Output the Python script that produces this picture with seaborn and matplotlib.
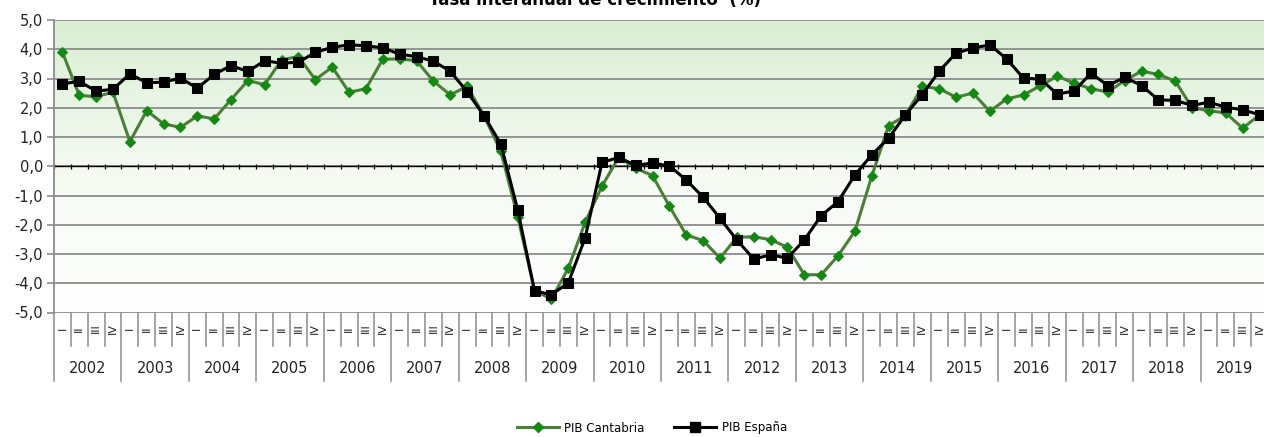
import numpy as np
import pandas as pd
import seaborn as sns
import matplotlib
matplotlib.use('Agg')
import matplotlib.pyplot as plt
from matplotlib.colors import LinearSegmentedColormap
from matplotlib.lines import Line2D

# Quarterly year-on-year GDP growth (%), 2002 Q1 - 2019 Q4
years = [str(y) for y in range(2002, 2020)]
quarters = ["I", "II", "III", "IV"]

cantabria = [
    3.90, 2.42, 2.38, 2.53,
    0.84, 1.90, 1.45, 1.33,
    1.72, 1.62, 2.28, 2.93,
    2.79, 3.64, 3.75, 2.96,
    3.39, 2.53, 2.65, 3.66,
    3.67, 3.61, 2.91, 2.44,
    2.73, 1.73, 0.51, -1.72,
    -4.25, -4.54, -3.49, -1.92,
    -0.68, 0.31, -0.07, -0.32,
    -1.37, -2.35, -2.54, -3.14,
    -2.43, -2.41, -2.51, -2.77,
    -3.71, -3.71, -3.06, -2.22,
    -0.34, 1.39, 1.73, 2.73,
    2.65, 2.36, 2.50, 1.88,
    2.30, 2.44, 2.75, 3.08,
    2.84, 2.65, 2.54, 2.93,
    3.25, 3.14, 2.91, 2.00,
    1.90, 1.82, 1.30, 1.76,
]

espana = [
    2.82, 2.90, 2.57, 2.63,
    3.16, 2.85, 2.88, 3.01,
    2.67, 3.14, 3.44, 3.24,
    3.61, 3.52, 3.56, 3.89,
    4.07, 4.15, 4.12, 4.05,
    3.83, 3.75, 3.59, 3.25,
    2.55, 1.73, 0.76, -1.49,
    -4.26, -4.39, -3.99, -2.45,
    0.13, 0.30, 0.03, 0.11,
    0.01, -0.47, -1.06, -1.78,
    -2.52, -3.17, -3.03, -3.14,
    -2.52, -1.69, -1.21, -0.30,
    0.39, 0.96, 1.76, 2.45,
    3.25, 3.87, 4.04, 4.15,
    3.67, 3.01, 2.98, 2.47,
    2.57, 3.18, 2.76, 3.04,
    2.76, 2.27, 2.25, 2.08,
    2.19, 2.02, 1.93, 1.76,
]

n = len(cantabria)
df = pd.DataFrame({
    "idx": np.arange(n),
    "PIB Cantabria": cantabria,
    "PIB España": espana,
})

plt.rcParams['font.family'] = ['DejaVu Sans']

fig = plt.figure(figsize=(12.64, 4.37), dpi=100)
ax = fig.add_axes([54 / 1264, 1 - 312.5 / 437, 1214 / 1264, 292.5 / 437])

# gradient background
cmap = LinearSegmentedColormap.from_list("bg", ["#ffffff", "#f4faf2", "#d9eed3"])
grad = np.linspace(0, 1, 256).reshape(-1, 1)
ax.imshow(grad, cmap=cmap, aspect='auto', origin='lower',
          extent=[-0.5, n - 0.5, -5, 5], zorder=0)

# horizontal grid
for v in range(-5, 6):
    ax.axhline(v, color="#8c8c8c", lw=1.3, zorder=1)
ax.axhline(0, color="black", lw=1.0, zorder=2)
ax.vlines(np.arange(n + 1) - 0.5, -0.09, 0.09, color="black", lw=0.9, zorder=2)

sns.lineplot(data=df, x="idx", y="PIB Cantabria", ax=ax, color="#4a7f36",
             lw=2.2, marker="D", markersize=5, markerfacecolor="#128a12",
             markeredgecolor="#128a12", zorder=3)
sns.lineplot(data=df, x="idx", y="PIB España", ax=ax, color="black",
             lw=2.2, marker="s", markersize=7, markerfacecolor="black",
             markeredgecolor="black", zorder=4)

ax.set_xlim(-0.5, n - 0.5)
ax.set_ylim(-5, 5)
ax.set_xlabel("")
ax.set_ylabel("")
ax.set_xticks([])
ax.set_yticks(range(-5, 6))
ax.set_yticklabels([f"{v},0" for v in range(-5, 6)], fontsize=10.5, color="#222222")
ax.tick_params(axis='y', length=5, color="#8c8c8c", width=1.2, pad=3)
for s in ["top", "right", "bottom"]:
    ax.spines[s].set_visible(False)
ax.spines["left"].set_color("#8c8c8c")
ax.spines["left"].set_linewidth(1.3)

# category axis below the plot
trans = ax.get_xaxis_transform()
px = 1 / 292.5
for i in range(n + 1):
    x = i - 0.5
    bottom = -68 * px if i % 4 == 0 else -33 * px
    ax.plot([x, x], [0, bottom], transform=trans, color="#8c8c8c",
            lw=1.1, clip_on=False)
for i in range(n):
    ax.text(i, -16 * px, quarters[i % 4], transform=trans, rotation=90,
            ha='center', va='center', fontsize=8, color="#222222", clip_on=False)
for k, y in enumerate(years):
    ax.text(4 * k + 1.5, -56 * px, y, transform=trans, ha='center', va='center',
            fontsize=10.5, color="#222222", clip_on=False)

fig.text(595 / 1264, 1 - 5 / 437, "Tasa interanual de crecimiento  (%)",
         ha='center', va='baseline', fontsize=12, fontweight='bold')

handles = [
    Line2D([], [], color="#4a7f36", lw=2.2, marker="D", markersize=5,
           markerfacecolor="#128a12", markeredgecolor="#128a12"),
    Line2D([], [], color="black", lw=2.2, marker="s", markersize=7),
]
fig.legend(handles, ["PIB Cantabria", "PIB España"], loc='center',
           bbox_to_anchor=(652 / 1264, 1 - 428 / 437), ncol=2, frameon=False,
           fontsize=8.5, handlelength=3.5, columnspacing=2.5, handletextpad=0.5)

fig.savefig("out.png", dpi=100)
